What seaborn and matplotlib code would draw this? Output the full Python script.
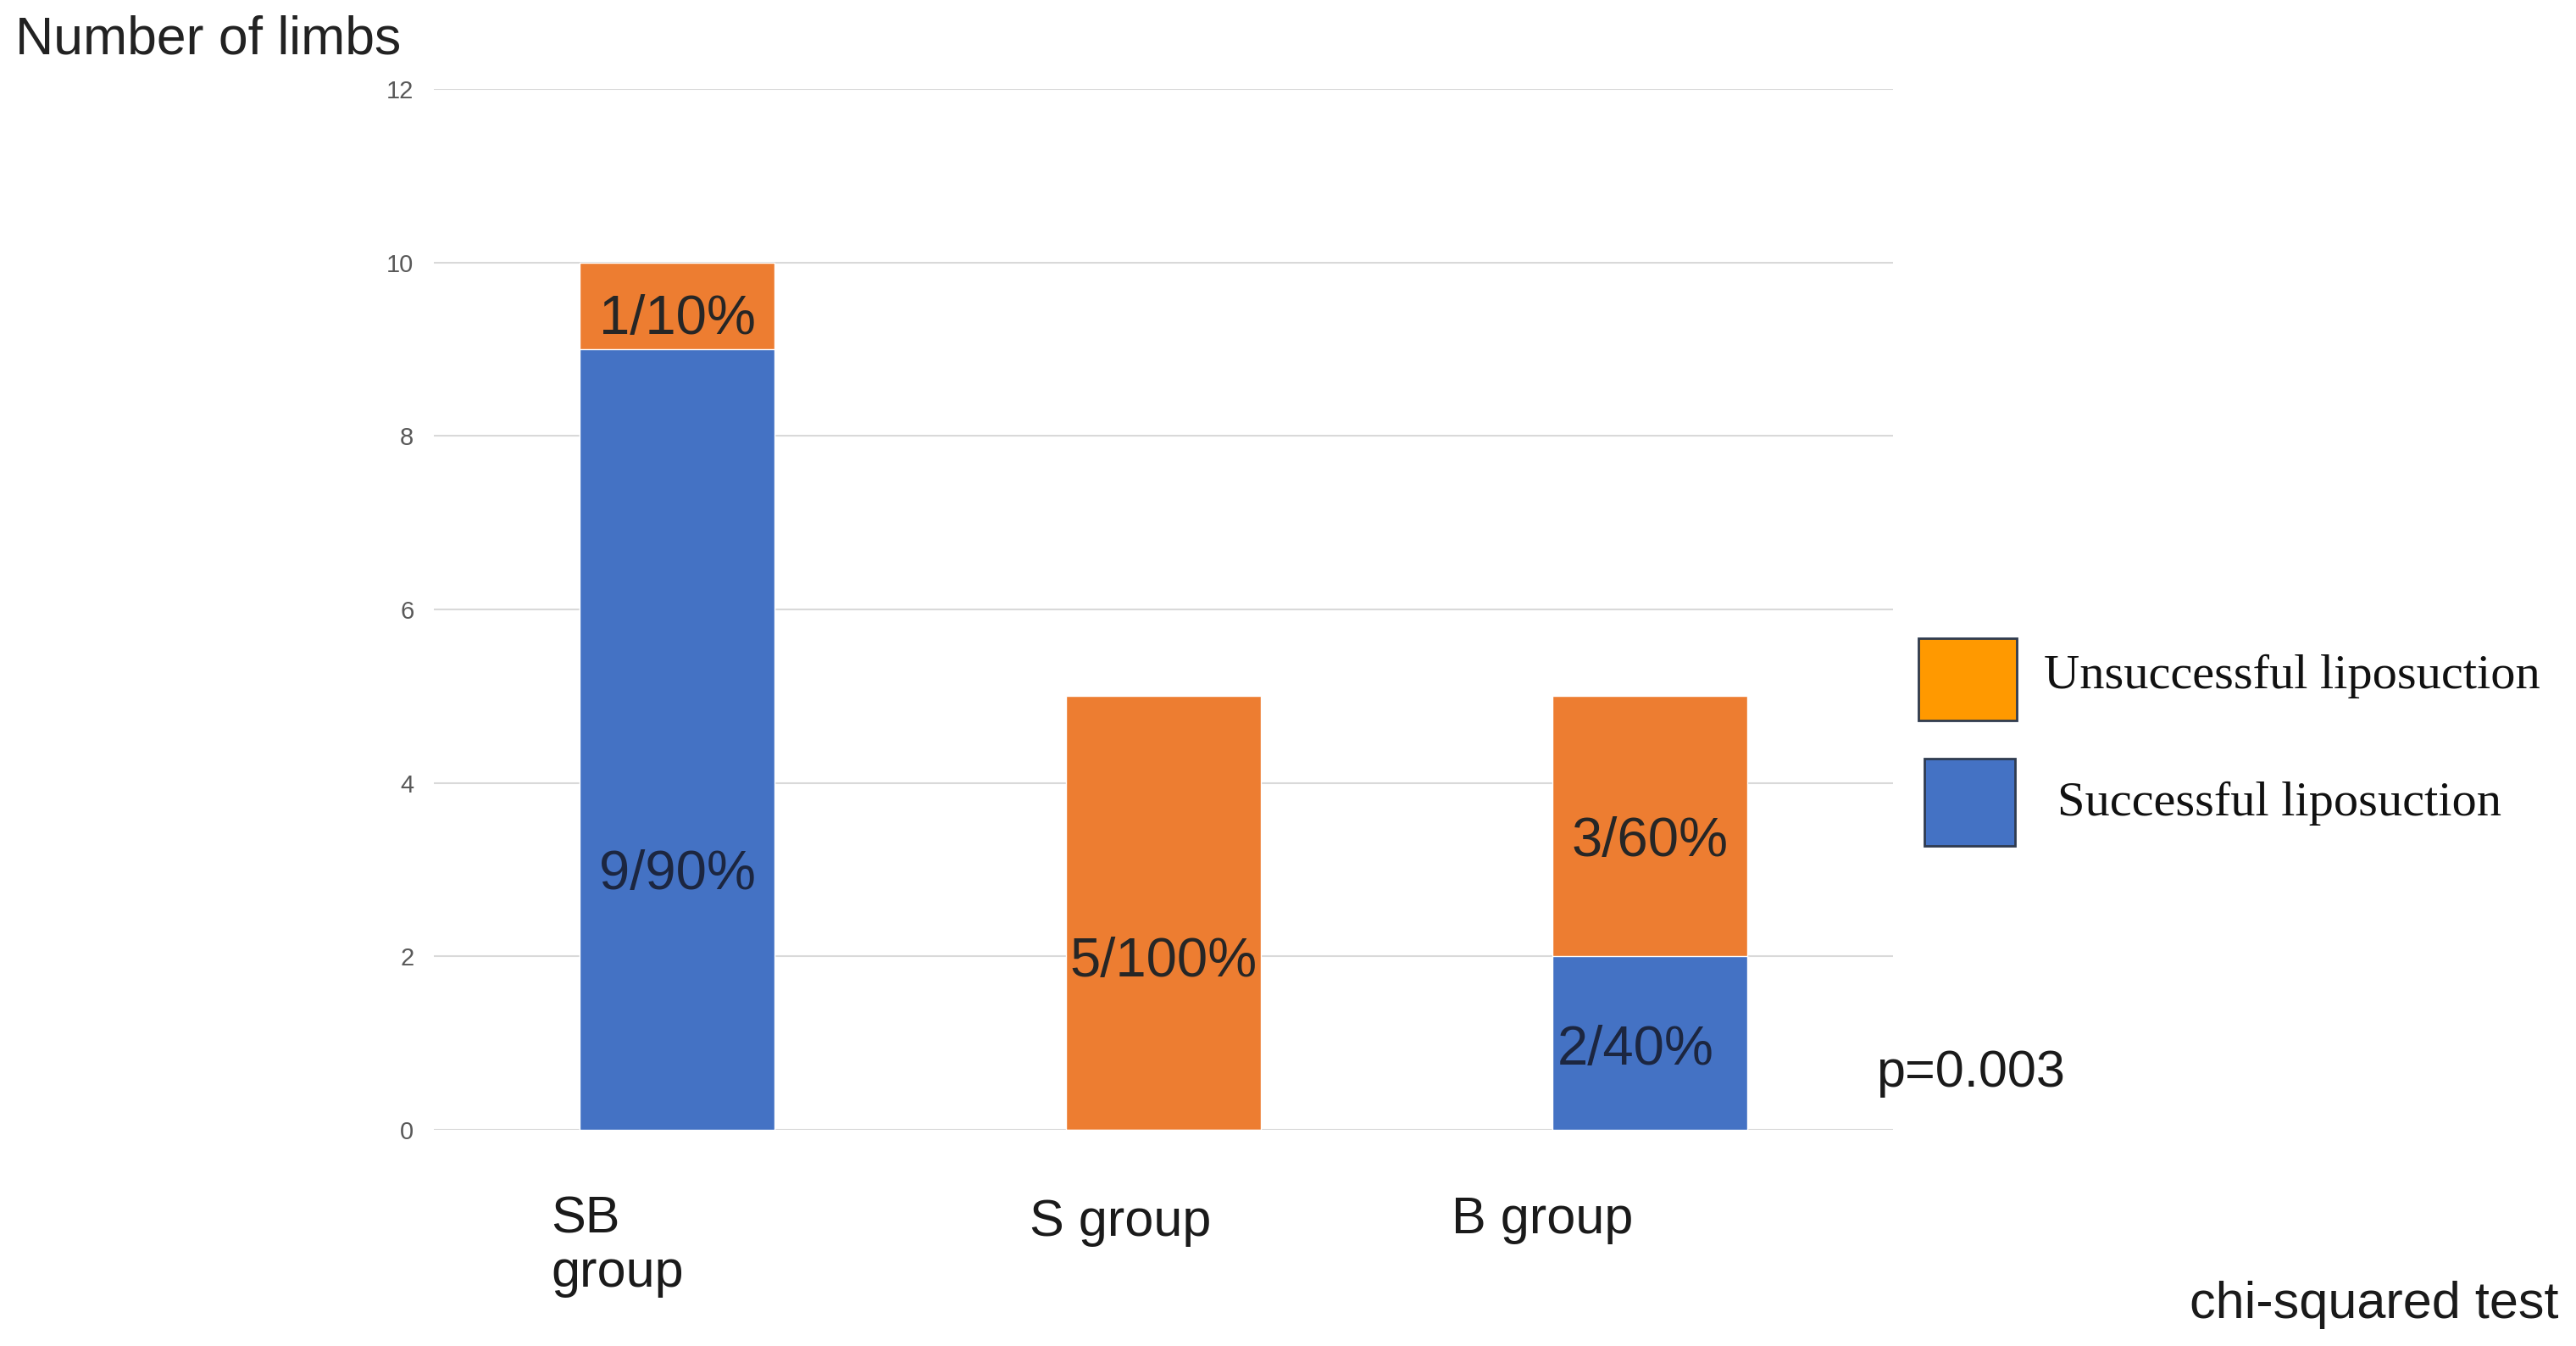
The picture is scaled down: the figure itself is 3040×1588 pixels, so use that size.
import matplotlib
matplotlib.use("Agg")
import matplotlib.pyplot as plt
from matplotlib.patches import Rectangle
import seaborn as sns
import pandas as pd

# ---- data ----
groups = ["SB group", "S group", "B group"]
successful = [9, 0, 2]
unsuccessful = [1, 5, 3]
label_texts_unsucc = ["1/10%", "5/100%", "3/60%"]
label_texts_succ = ["9/90%", "", "2/40%"]
yticks = [0, 2, 4, 6, 8, 10, 12]
legend_labels = ["Unsuccessful liposuction", "Successful liposuction"]

# ---- styles / layout ----
C_ORANGE = "#ED7D31"
C_BLUE = "#4472C4"
C_LEG_ORANGE = "#FF9900"
SANS = ["Liberation Sans", "DejaVu Sans"]
SERIF = ["Liberation Serif", "DejaVu Serif"]

sns.set_theme(style="white")
plt.rcParams["font.family"] = SANS

W, H = 3040, 1588
fig = plt.figure(figsize=(W / 100, H / 100), dpi=100)
ax = fig.add_axes([512 / W, 1 - 1333 / H, (2234 - 512) / W, (1333 - 105) / H])

df = pd.DataFrame({
    "group": groups,
    "successful": successful,
    "unsuccessful": unsuccessful,
})
df["total"] = df["successful"] + df["unsuccessful"]

sns.barplot(data=df, x="group", y="total", color=C_ORANGE, width=0.4,
            saturation=1, ax=ax, zorder=3)
sns.barplot(data=df, x="group", y="successful", color=C_BLUE, width=0.4,
            saturation=1, ax=ax, zorder=4)

ax.set_xlim(-0.5, 2.5)
ax.set_ylim(0, 12)
ax.set_yticks(yticks)
ax.set_yticklabels([str(v) for v in yticks], fontsize=21, color="#595959",
                   family=SANS)
ax.tick_params(axis="y", length=0, pad=17)
ax.set_xticks([])
ax.set_xlabel("")
ax.set_ylabel("")
for s in ax.spines.values():
    s.set_visible(False)
ax.grid(axis="y", color="#D9D9D9", linewidth=1.5, zorder=0)
ax.set_axisbelow(True)

# bar value labels (positions inside segments, in data coordinates)
unsucc_label_y = [9.34, 1.93, 3.32]
succ_label_y = [2.94, None, 0.92]
succ_label_dx = [0.0, 0.0, -0.03]
LABEL_FS = 47
for i in range(len(groups)):
    ax.text(i, unsucc_label_y[i], label_texts_unsucc[i], ha="center",
            va="center", fontsize=LABEL_FS, color="#262626", family=SANS,
            zorder=6)
    if label_texts_succ[i]:
        ax.text(i + succ_label_dx[i], succ_label_y[i], label_texts_succ[i],
                ha="center", va="center", fontsize=LABEL_FS, color="#1C2640",
                family=SANS, zorder=6)

def px(x, y):
    return x / W, 1 - y / H

# axis title
fig.text(*px(18, 63), "Number of limbs", fontsize=45, color="#222222",
         ha="left", va="baseline", family=SANS)

# category labels
fig.text(*px(650, 1518), "SB\ngroup", fontsize=44, color="#1a1a1a",
         ha="left", va="baseline", linespacing=1.15, family=SANS)
fig.text(*px(1215, 1458), groups[1], fontsize=44, color="#1a1a1a",
         ha="left", va="baseline", family=SANS)
fig.text(*px(1713, 1455), groups[2], fontsize=44, color="#1a1a1a",
         ha="left", va="baseline", family=SANS)

# statistics
fig.text(*px(2214, 1282), "p=0.003", fontsize=44, color="#1a1a1a",
         ha="left", va="baseline", family=SANS)
fig.text(*px(3020, 1555), "chi-squared test", fontsize=44, color="#1a1a1a",
         ha="right", va="baseline", family=SANS)

# legend
def rect(x0, y0, x1, y1, fc):
    r = Rectangle((x0 / W, 1 - y1 / H), (x1 - x0) / W, (y1 - y0) / H,
                  transform=fig.transFigure, facecolor=fc,
                  edgecolor="#2F3B4F", linewidth=2.0)
    fig.add_artist(r)

rect(2264, 753, 2380, 850, C_LEG_ORANGE)
rect(2271, 895, 2378, 998, C_BLUE)
fig.text(*px(2412, 812), legend_labels[0], fontsize=42, color="#111111",
         ha="left", va="baseline", family=SERIF)
fig.text(*px(2428, 962), legend_labels[1], fontsize=42, color="#111111",
         ha="left", va="baseline", family=SERIF)

fig.savefig("out.png", dpi=100, facecolor="white")
